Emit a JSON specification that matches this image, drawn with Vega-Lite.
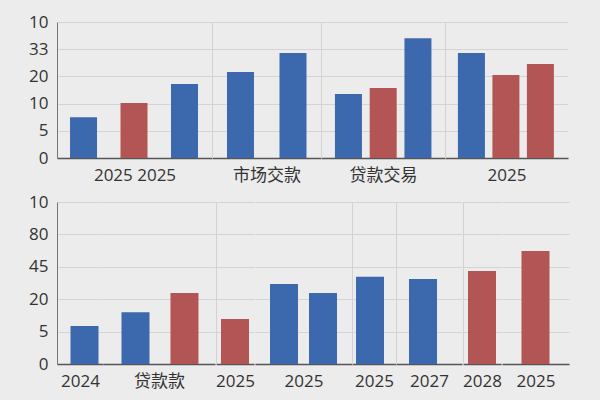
{
  "$schema": "https://vega.github.io/schema/vega-lite/v6.json",
  "background": "#ececec",
  "padding": {"left": 28, "top": 13, "right": 40, "bottom": 16},
  "spacing": 10,
  "data": {
    "values": [
      {"unit": "t1", "bar": "t1a", "value": 1.5, "series": "blue"},
      {"unit": "t1", "bar": "t1b", "value": 2.02, "series": "red"},
      {"unit": "t1", "bar": "t1c", "value": 2.72, "series": "blue"},
      {"unit": "t2", "bar": "t2a", "value": 3.16, "series": "blue"},
      {"unit": "t2", "bar": "t2b", "value": 3.86, "series": "blue"},
      {"unit": "t3", "bar": "t3a", "value": 2.35, "series": "blue"},
      {"unit": "t3", "bar": "t3b", "value": 2.57, "series": "red"},
      {"unit": "t3", "bar": "t3c", "value": 4.4, "series": "blue"},
      {"unit": "t4", "bar": "t4a", "value": 3.86, "series": "blue"},
      {"unit": "t4", "bar": "t4b", "value": 3.05, "series": "red"},
      {"unit": "t4", "bar": "t4c", "value": 3.46, "series": "red"},
      {"unit": "b1", "bar": "b1a", "value": 1.17, "series": "blue"},
      {"unit": "b2", "bar": "b2a", "value": 1.6, "series": "blue"},
      {"unit": "b2", "bar": "b2b", "value": 2.19, "series": "red"},
      {"unit": "b3", "bar": "b3a", "value": 1.39, "series": "red"},
      {"unit": "b4", "bar": "b4a", "value": 2.47, "series": "blue"},
      {"unit": "b4", "bar": "b4b", "value": 2.19, "series": "blue"},
      {"unit": "b5", "bar": "b5a", "value": 2.69, "series": "blue"},
      {"unit": "b6", "bar": "b6a", "value": 2.62, "series": "blue"},
      {"unit": "b7", "bar": "b7a", "value": 2.87, "series": "red"},
      {"unit": "b8", "bar": "b8a", "value": 3.49, "series": "red"}
    ]
  },
  "vconcat": [
    {
      "spacing": 0,
      "hconcat": [
        {
          "width": 155, "height": 136,
          "transform": [{"filter": "datum.unit == 't1'"}],
          "mark": {"type": "bar", "width": 27},
          "encoding": {
            "x": {"field": "bar", "type": "nominal", "sort": null, "scale": {"paddingInner": 0, "paddingOuter": 0.035, "align": 0.36}, "axis": {"title": "2025 2025"}},
            "y": {"field": "value", "type": "quantitative", "scale": {"domain": [0, 5]}, "axis": {"values": [0, 1, 2, 3, 4, 5], "labelExpr": "['0','5','10','20','33','10'][datum.value]", "domainColor": "#777777"}},
            "color": {"field": "series", "type": "nominal", "legend": null}
          }
        },
        {
          "width": 109, "height": 136,
          "transform": [{"filter": "datum.unit == 't2'"}],
          "mark": {"type": "bar", "width": 27},
          "encoding": {
            "x": {"field": "bar", "type": "nominal", "sort": null, "scale": {"paddingInner": 0, "paddingOuter": 0.038, "align": 0.56}, "axis": {"title": "市场交款"}},
            "y": {"field": "value", "type": "quantitative", "scale": {"domain": [0, 5]}, "axis": {"values": [0, 1, 2, 3, 4, 5], "labels": false, "domainColor": "#d2d2d2"}},
            "color": {"field": "series", "type": "nominal", "legend": null}
          }
        },
        {
          "width": 124, "height": 136,
          "transform": [{"filter": "datum.unit == 't3'"}],
          "mark": {"type": "bar", "width": 27},
          "encoding": {
            "x": {"field": "bar", "type": "nominal", "sort": null, "scale": {"paddingInner": 0, "paddingOuter": 0.284, "align": 0.51}, "axis": {"title": "贷款交易"}},
            "y": {"field": "value", "type": "quantitative", "scale": {"domain": [0, 5]}, "axis": {"values": [0, 1, 2, 3, 4, 5], "labels": false, "domainColor": "#d2d2d2"}},
            "color": {"field": "series", "type": "nominal", "legend": null}
          }
        },
        {
          "width": 123, "height": 136,
          "transform": [{"filter": "datum.unit == 't4'"}],
          "mark": {"type": "bar", "width": 27},
          "encoding": {
            "x": {"field": "bar", "type": "nominal", "sort": null, "scale": {"paddingInner": 0, "paddingOuter": 0.283, "align": 0.47}, "axis": {"title": "2025"}},
            "y": {"field": "value", "type": "quantitative", "scale": {"domain": [0, 5]}, "axis": {"values": [0, 1, 2, 3, 4, 5], "labels": false, "domainColor": "#d2d2d2"}},
            "color": {"field": "series", "type": "nominal", "legend": null}
          }
        }
      ]
    },
    {
      "spacing": 0,
      "hconcat": [
        {
          "width": 46, "height": 162,
          "transform": [{"filter": "datum.unit == 'b1'"}],
          "mark": {"type": "bar", "width": 28},
          "encoding": {
            "x": {"field": "bar", "type": "nominal", "sort": null, "scale": {"paddingInner": 0, "paddingOuter": 0.139, "align": 0.95}, "axis": {"title": "2024"}},
            "y": {"field": "value", "type": "quantitative", "scale": {"domain": [0, 5]}, "axis": {"values": [0, 1, 2, 3, 4, 5], "labelExpr": "['0','5','20','45','80','10'][datum.value]", "domainColor": "#777777"}},
            "color": {"field": "series", "type": "nominal", "legend": null}
          }
        },
        {
          "width": 112, "height": 162,
          "transform": [{"filter": "datum.unit == 'b2'"}],
          "mark": {"type": "bar", "width": 28},
          "encoding": {
            "x": {"field": "bar", "type": "nominal", "sort": null, "scale": {"paddingInner": 0, "paddingOuter": 0.143, "align": 0.57}, "axis": {"title": "贷款款"}},
            "y": {"field": "value", "type": "quantitative", "scale": {"domain": [0, 5]}, "axis": {"values": [0, 1, 2, 3, 4, 5], "labels": false, "domain": false}},
            "color": {"field": "series", "type": "nominal", "legend": null}
          }
        },
        {
          "width": 38, "height": 162,
          "transform": [{"filter": "datum.unit == 'b3'"}],
          "mark": {"type": "bar", "width": 28},
          "encoding": {
            "x": {"field": "bar", "type": "nominal", "sort": null, "scale": {"paddingInner": 0, "paddingOuter": 0}, "axis": {"title": "2025"}},
            "y": {"field": "value", "type": "quantitative", "scale": {"domain": [0, 5]}, "axis": {"values": [0, 1, 2, 3, 4, 5], "labels": false, "domainColor": "#d2d2d2"}},
            "color": {"field": "series", "type": "nominal", "legend": null}
          }
        },
        {
          "width": 97, "height": 162,
          "transform": [{"filter": "datum.unit == 'b4'"}],
          "mark": {"type": "bar", "width": 28},
          "encoding": {
            "x": {"field": "bar", "type": "nominal", "sort": null, "scale": {"paddingInner": 0, "paddingOuter": 0.244, "align": 0.5}, "axis": {"title": "2025"}},
            "y": {"field": "value", "type": "quantitative", "scale": {"domain": [0, 5]}, "axis": {"values": [0, 1, 2, 3, 4, 5], "labels": false, "domain": false}},
            "color": {"field": "series", "type": "nominal", "legend": null}
          }
        },
        {
          "width": 44, "height": 162,
          "transform": [{"filter": "datum.unit == 'b5'"}],
          "mark": {"type": "bar", "width": 28},
          "encoding": {
            "x": {"field": "bar", "type": "nominal", "sort": null, "scale": {"paddingInner": 0, "paddingOuter": 0.111, "align": 0}, "axis": {"title": "2025"}},
            "y": {"field": "value", "type": "quantitative", "scale": {"domain": [0, 5]}, "axis": {"values": [0, 1, 2, 3, 4, 5], "labels": false, "domainColor": "#d2d2d2"}},
            "color": {"field": "series", "type": "nominal", "legend": null}
          }
        },
        {
          "width": 66, "height": 162,
          "transform": [{"filter": "datum.unit == 'b6'"}],
          "mark": {"type": "bar", "width": 28},
          "encoding": {
            "x": {"field": "bar", "type": "nominal", "sort": null, "scale": {"paddingInner": 0, "paddingOuter": 0.111, "align": 0}, "axis": {"title": "2027"}},
            "y": {"field": "value", "type": "quantitative", "scale": {"domain": [0, 5]}, "axis": {"values": [0, 1, 2, 3, 4, 5], "labels": false, "domainColor": "#d2d2d2"}},
            "color": {"field": "series", "type": "nominal", "legend": null}
          }
        },
        {
          "width": 38, "height": 162,
          "transform": [{"filter": "datum.unit == 'b7'"}],
          "mark": {"type": "bar", "width": 28},
          "encoding": {
            "x": {"field": "bar", "type": "nominal", "sort": null, "scale": {"paddingInner": 0, "paddingOuter": 0}, "axis": {"title": "2028"}},
            "y": {"field": "value", "type": "quantitative", "scale": {"domain": [0, 5]}, "axis": {"values": [0, 1, 2, 3, 4, 5], "labels": false, "domainColor": "#d2d2d2"}},
            "color": {"field": "series", "type": "nominal", "legend": null}
          }
        },
        {
          "width": 67, "height": 162,
          "transform": [{"filter": "datum.unit == 'b8'"}],
          "mark": {"type": "bar", "width": 28},
          "encoding": {
            "x": {"field": "bar", "type": "nominal", "sort": null, "scale": {"paddingInner": 0, "paddingOuter": 0}, "axis": {"title": "2025"}},
            "y": {"field": "value", "type": "quantitative", "scale": {"domain": [0, 5]}, "axis": {"values": [0, 1, 2, 3, 4, 5], "labels": false, "domain": false}},
            "color": {"field": "series", "type": "nominal", "legend": null}
          }
        }
      ]
    }
  ],
  "resolve": {"scale": {"color": "shared"}},
  "config": {
    "view": {"stroke": null},
    "font": "Open Sans, Noto Sans CJK SC, sans-serif",
    "range": {"category": ["#3c68ad", "#b45555"]},
    "axis": {
      "labelFont": "Open Sans, Noto Sans CJK SC, sans-serif",
      "titleFont": "Open Sans, Noto Sans CJK SC, sans-serif",
      "labelFontSize": 17,
      "titleFontSize": 17,
      "titleFontWeight": "normal",
      "labelColor": "#333333",
      "titleColor": "#333333",
      "ticks": false
    },
    "axisY": {"grid": true, "gridColor": "#d4d4d4", "labelPadding": 9, "title": null},
    "axisX": {"labels": false, "domainColor": "#555555", "domainWidth": 1.5, "titlePadding": 9}
  }
}
